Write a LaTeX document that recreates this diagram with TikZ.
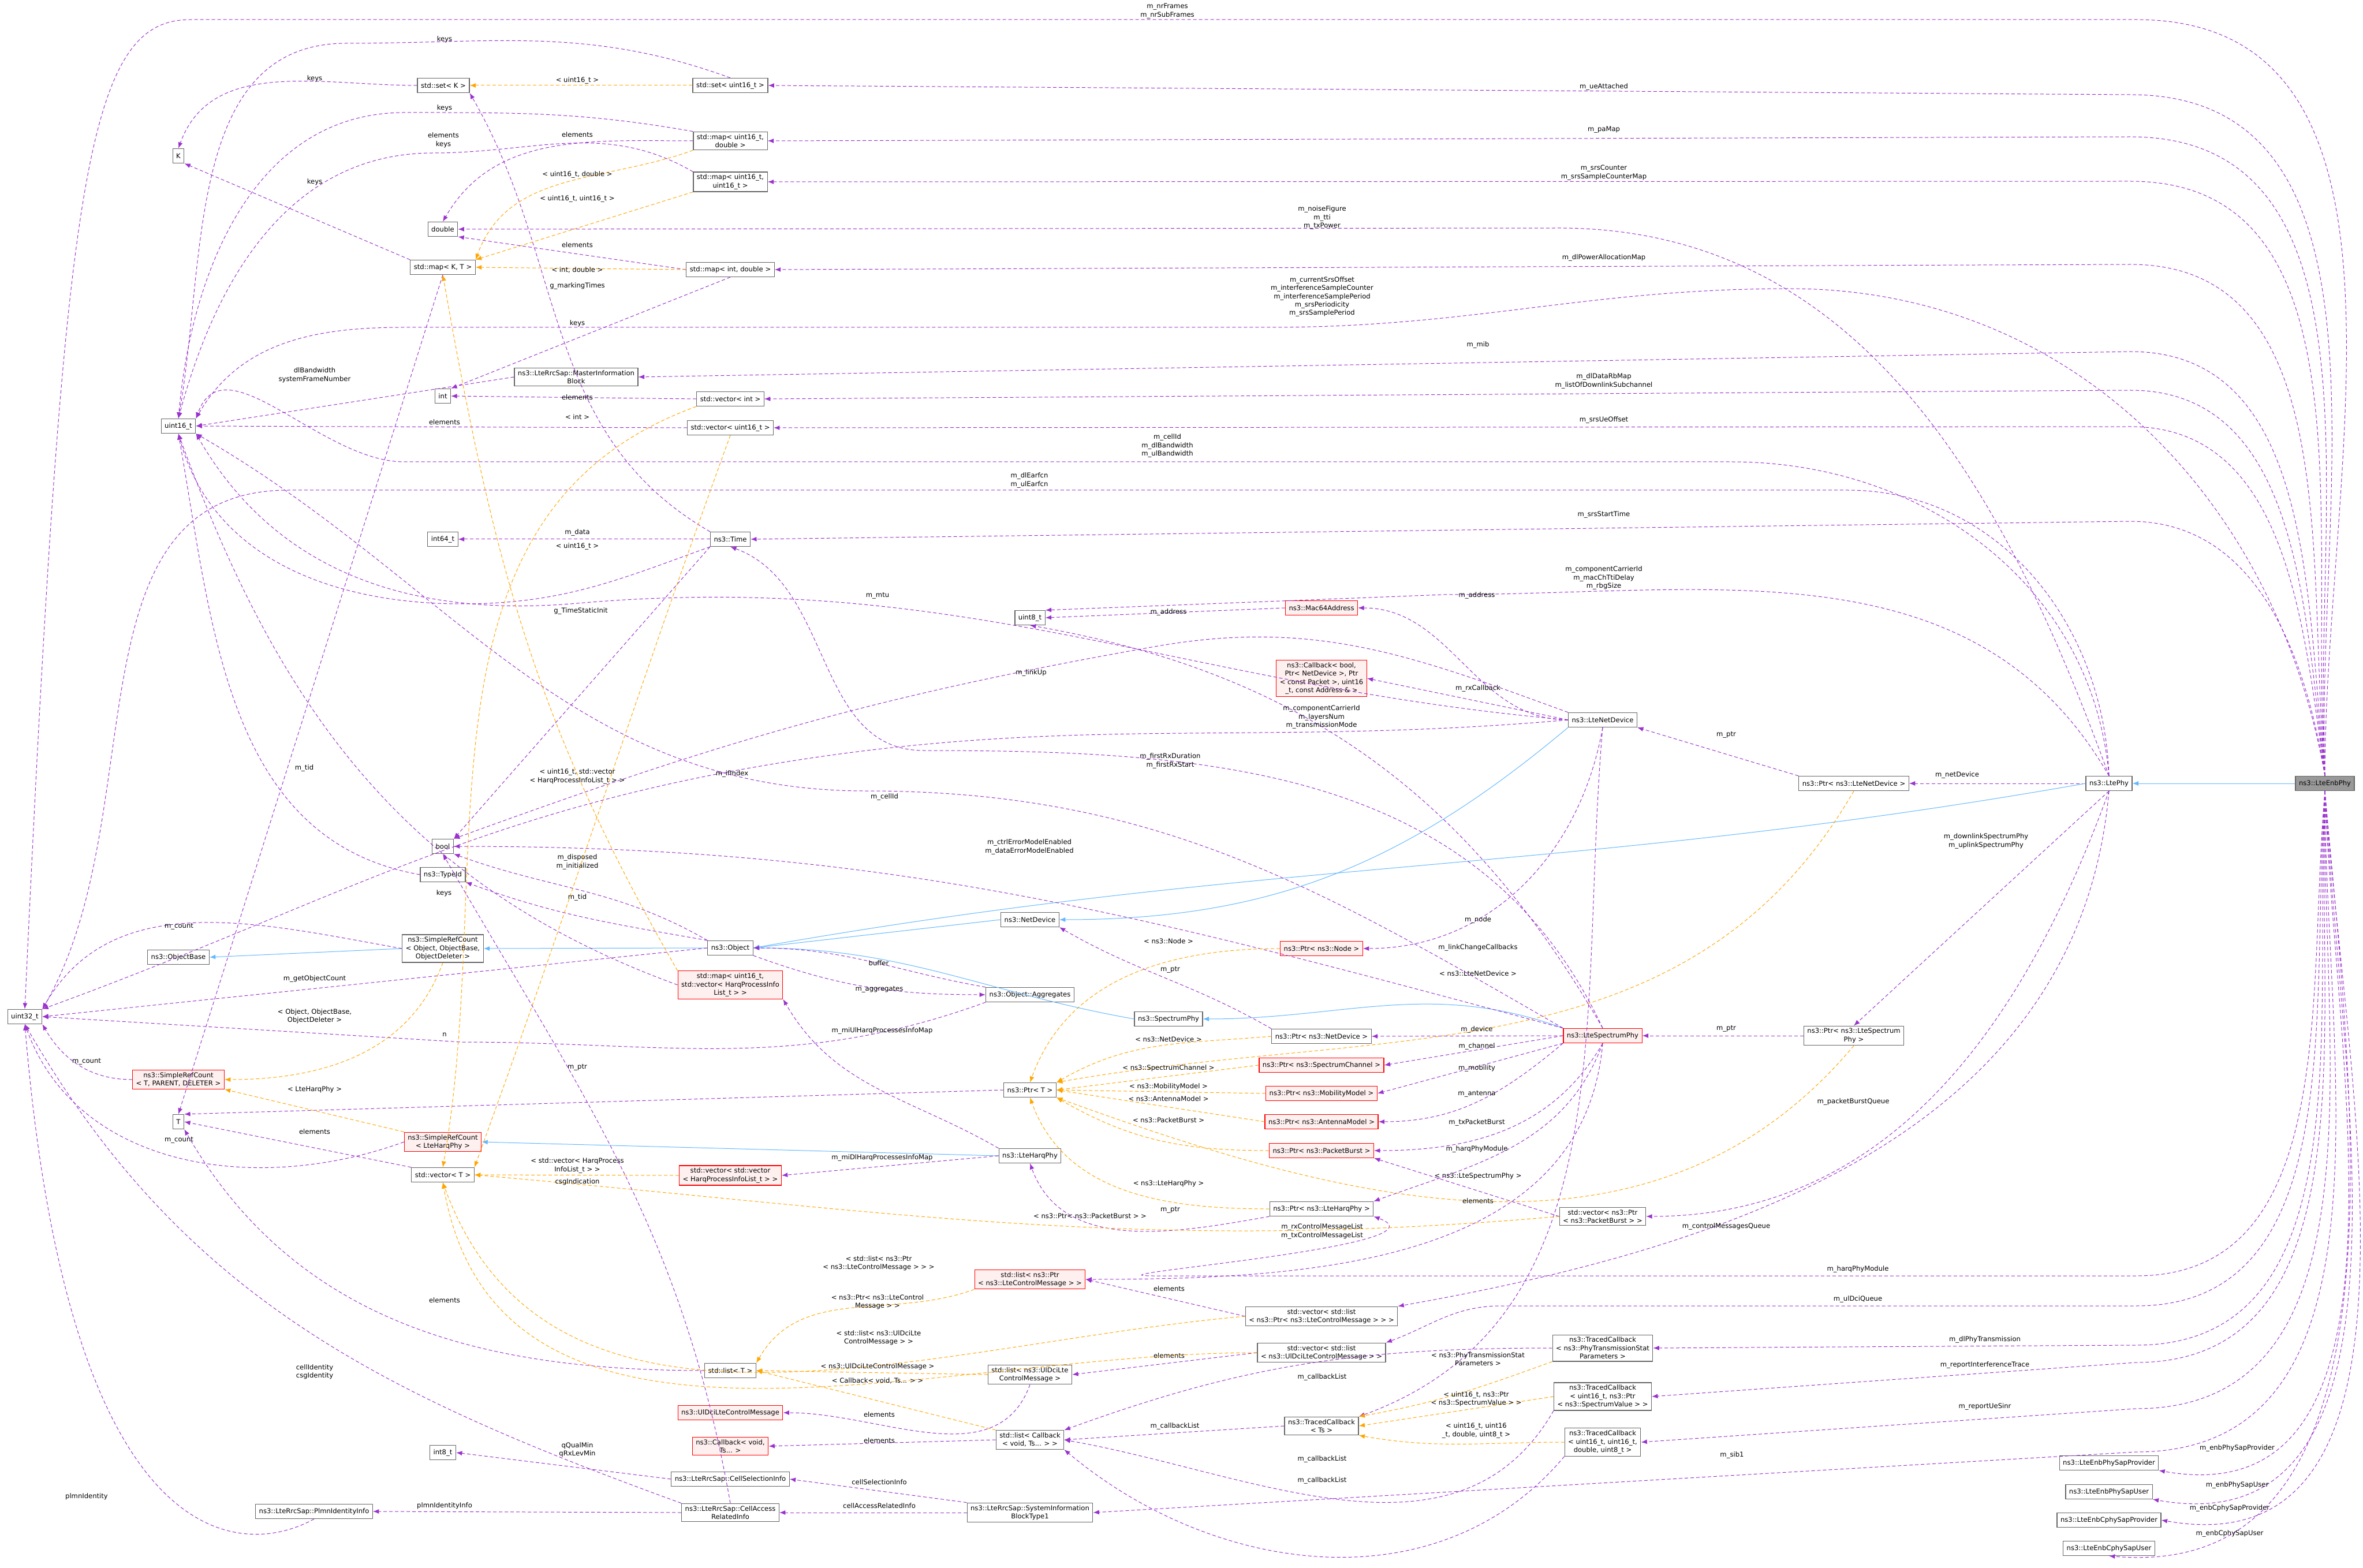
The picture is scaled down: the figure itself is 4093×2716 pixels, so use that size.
\documentclass[tikz,border=0pt]{standalone}
\usepackage{fontspec}
\setmainfont{DejaVu Sans}
\usetikzlibrary{arrows.meta}
\definecolor{mem}{HTML}{9A32CD}
\definecolor{tpl}{HTML}{FFA500}
\definecolor{inh}{HTML}{63B8FF}
\definecolor{redfill}{HTML}{FFF0F0}
\newcounter{lbc}
\newcommand\lb[2]{\stepcounter{lbc}\node[lbl] (lb\arabic{lbc}) at (#1) {#2};}
\tikzset{
 box/.style={draw=black!60, fill=white, line width=0.3pt, font=\fontsize{2.9}{3.6}\selectfont, align=center, inner xsep=1.5pt, inner ysep=1pt, minimum height=6.25pt},
 rbox/.style={box, draw=red, fill=redfill},
 gbox/.style={box, fill=black!40},
 lbl/.style={font=\fontsize{2.9}{3.6}\selectfont, align=center, inner sep=0.25pt},
 m/.style={draw=mem, dash pattern=on 1.5pt off 1pt, line width=0.25pt, -{Latex[length=2.6pt,width=2pt]}},
 o/.style={draw=tpl, dash pattern=on 1.5pt off 1pt, line width=0.25pt, -{Latex[length=2.6pt,width=2pt]}},
 b/.style={draw=inh, line width=0.25pt, -{Latex[length=2.6pt,width=2pt]}},
}
\begin{document}
\begin{tikzpicture}[x=0.25pt,y=-0.25pt]
\useasboundingbox (0,0) rectangle (4093,2716);
% nodes
\node[box] (setK) at (768,148) {std::set< K >};
\node[box] (setU16) at (1265,148) {std::set< uint16\_t >};
\node[box] (K) at (309,270) {K};
\node[box] (mapU16D) at (1265,244) {std::map< uint16\_t,\\double >};
\node[box] (mapU16U16) at (1265,315) {std::map< uint16\_t,\\uint16\_t >};
\node[box] (dbl) at (767,397) {double};
\node[box] (mapKT) at (767,463) {std::map< K, T >};
\node[box] (mapID) at (1265,467) {std::map< int, double >};
\node[box] (mib) at (998,653) {ns3::LteRrcSap::MasterInformation\\Block};
\node[box] (int) at (767,686) {int};
\node[box] (vecInt) at (1265,691) {std::vector< int >};
\node[box] (u16) at (309,738) {uint16\_t};
\node[box] (vecU16) at (1265,741) {std::vector< uint16\_t >};
\node[box] (i64) at (767,934) {int64\_t};
\node[box] (time) at (1265,934) {ns3::Time};
\node[box] (u8) at (1784,1070) {uint8\_t};
\node[rbox] (mac) at (2289,1053) {ns3::Mac64Address};
\node[rbox] (cbBool) at (2289,1175) {ns3::Callback< bool,\\Ptr< NetDevice >, Ptr\\< const Packet >, uint16\\\_t, const Address \& >};
\node[box] (lnd) at (2776,1247) {ns3::LteNetDevice};
\node[box] (pLnd) at (3211,1357) {ns3::Ptr< ns3::LteNetDevice >};
\node[box] (lphy) at (3653,1357) {ns3::LtePhy};
\node[gbox] (enb) at (4027,1357) {ns3::LteEnbPhy};
\node[box] (bool) at (767,1466) {bool};
\node[box] (typeid) at (767,1515) {ns3::TypeId};
\node[box] (nd) at (1784,1593) {ns3::NetDevice};
\node[box] (srcObj) at (767,1643) {ns3::SimpleRefCount\\< Object, ObjectBase,\\ObjectDeleter >};
\node[box] (objBase) at (309,1658) {ns3::ObjectBase};
\node[box] (obj) at (1265,1642) {ns3::Object};
\node[rbox] (pNode) at (2289,1643) {ns3::Ptr< ns3::Node >};
\node[rbox] (mapHarq) at (1265,1706) {std::map< uint16\_t,\\std::vector< HarqProcessInfo\\List\_t > >};
\node[box] (aggr) at (1784,1723) {ns3::Object::Aggregates};
\node[box] (u32) at (43,1761) {uint32\_t};
\node[box] (sphy) at (2024,1765) {ns3::SpectrumPhy};
\node[box] (pNd) at (2289,1795) {ns3::Ptr< ns3::NetDevice >};
\node[rbox] (lsp) at (2776,1794) {ns3::LteSpectrumPhy};
\node[box] (pLsp) at (3211,1794) {ns3::Ptr< ns3::LteSpectrum\\Phy >};
\node[rbox] (pChan) at (2289,1845) {ns3::Ptr< ns3::SpectrumChannel >};
\node[rbox] (srcT) at (309,1870) {ns3::SimpleRefCount\\< T, PARENT, DELETER >};
\node[box] (pT) at (1784,1888) {ns3::Ptr< T >};
\node[rbox] (pMob) at (2289,1894) {ns3::Ptr< ns3::MobilityModel >};
\node[box] (T) at (309,1943) {T};
\node[rbox] (pAnt) at (2289,1943) {ns3::Ptr< ns3::AntennaModel >};
\node[rbox] (srcHarq) at (767,1978) {ns3::SimpleRefCount\\< LteHarqPhy >};
\node[rbox] (pPB) at (2289,1993) {ns3::Ptr< ns3::PacketBurst >};
\node[box] (harq) at (1784,2002) {ns3::LteHarqPhy};
\node[box] (vecT) at (767,2035) {std::vector< T >};
\node[rbox] (vecVecHarq) at (1265,2036) {std::vector< std::vector\\< HarqProcessInfoList\_t > >};
\node[box] (pHarq) at (2289,2094) {ns3::Ptr< ns3::LteHarqPhy >};
\node[box] (vecPB) at (2776,2107) {std::vector< ns3::Ptr\\< ns3::PacketBurst > >};
\node[rbox] (listCtrl) at (1784,2216) {std::list< ns3::Ptr\\< ns3::LteControlMessage > >};
\node[box] (vecListCtrl) at (2289,2280) {std::vector< std::list\\< ns3::Ptr< ns3::LteControlMessage > > >};
\node[box] (tcPhyTx) at (2776,2335) {ns3::TracedCallback\\< ns3::PhyTransmissionStat\\Parameters >};
\node[box] (vecListUlDci) at (2289,2343) {std::vector< std::list\\< ns3::UlDciLteControlMessage > >};
\node[box] (listT) at (1265,2374) {std::list< T >};
\node[box] (listUlDci) at (1784,2381) {std::list< ns3::UlDciLte\\ControlMessage >};
\node[box] (tcU16) at (2776,2419) {ns3::TracedCallback\\< uint16\_t, ns3::Ptr\\< ns3::SpectrumValue > >};
\node[rbox] (ulDci) at (1265,2447) {ns3::UlDciLteControlMessage};
\node[box] (tcTs) at (2289,2470) {ns3::TracedCallback\\< Ts >};
\node[box] (listCb) at (1784,2494) {std::list< Callback\\< void, Ts... > >};
\node[box] (tcU16U16) at (2776,2498) {ns3::TracedCallback\\< uint16\_t, uint16\_t,\\double, uint8\_t >};
\node[rbox] (cbVoid) at (1265,2505) {ns3::Callback< void,\\Ts... >};
\node[box] (i8) at (767,2516) {int8\_t};
\node[box] (cellSel) at (1265,2562) {ns3::LteRrcSap::CellSelectionInfo};
\node[box] (sib1) at (1784,2620) {ns3::LteRrcSap::SystemInformation\\BlockType1};
\node[box] (cellAcc) at (1265,2620) {ns3::LteRrcSap::CellAccess\\RelatedInfo};
\node[box] (plmn) at (544,2618) {ns3::LteRrcSap::PlmnIdentityInfo};
\node[box] (sapP) at (3653,2534) {ns3::LteEnbPhySapProvider};
\node[box] (sapU) at (3653,2584) {ns3::LteEnbPhySapUser};
\node[box] (csapP) at (3653,2633) {ns3::LteEnbCphySapProvider};
\node[box] (csapU) at (3653,2682) {ns3::LteEnbCphySapUser};

% --- LteEnbPhy upward members
\draw[m] (enb.north) to[out=90,in=0] (3700,34) -- (330,34) .. controls (150,34) and (110,300) .. (u32.north);
\lb{2022,19}{m\_nrFrames\\m\_nrSubFrames}
\draw[m] (enb.north) to[out=92,in=0] (3690,164) -- (setU16.east);
\lb{2778,150}{m\_ueAttached}
\draw[m] (enb.north) to[out=93,in=0] (3690,237) -- (mapU16D.east);
\lb{2778,225}{m\_paMap}
\draw[m] (enb.north) to[out=94,in=0] (3690,314) -- (mapU16U16.east);
\lb{2778,299}{m\_srsCounter\\m\_srsSampleCounterMap}
\draw[m] (enb.north) to[out=95,in=0] (3690,458) -- (mapID.east);
\lb{2778,446}{m\_dlPowerAllocationMap}
\draw[m] (enb.north) to[out=100,in=0] (3100,500) to[out=180,in=0] (2200,567) -- (700,567) to[out=180,in=60] (u16.north east);
\lb{2290,514}{m\_currentSrsOffset\\m\_interferenceSampleCounter\\m\_interferenceSamplePeriod\\m\_srsPeriodicity\\m\_srsSamplePeriod}
\draw[m] (enb.north) to[out=96,in=0] (3690,609) -- (mib.east);
\lb{2560,597}{m\_mib}
\draw[m] (enb.north) to[out=97,in=0] (3690,676) -- (vecInt.east);
\lb{2778,660}{m\_dlDataRbMap\\m\_listOfDownlinkSubchannel}
\draw[m] (enb.north) to[out=98,in=0] (3690,739) -- (vecU16.east);
\lb{2778,727}{m\_srsUeOffset}
\draw[m] (enb.north) to[out=99,in=0] (3690,903) -- (time.east);
\lb{2778,891}{m\_srsStartTime}
% --- LteEnbPhy downward members
\draw[b] (enb.west) -- (lphy.east);
\draw[m] (enb.south) to[out=-95,in=0] (3700,2210) -- (2000,2210) to[out=180,in=-20] (pHarq.south east);
\lb{3218,2198}{m\_harqPhyModule}
\draw[m] (enb.south) to[out=-94,in=0] (3700,2262) -- (2600,2262) to[out=180,in=20] (vecListUlDci.north east);
\lb{3218,2250}{m\_ulDciQueue}
\draw[m] (enb.south) to[out=-93,in=0] (3700,2330) -- (tcPhyTx.east);
\lb{3438,2320}{m\_dlPhyTransmission}
\draw[m] (enb.south) to[out=-92,in=0] (3700,2360) -- (tcU16.east);
\lb{3438,2364}{m\_reportInterferenceTrace}
\draw[m] (enb.south) to[out=-91,in=0] (3700,2440) -- (tcU16U16.east);
\lb{3438,2436}{m\_reportUeSinr}
\draw[m] (enb.south) to[out=-90,in=0] (3700,2515) -- (sib1.east);
\lb{3000,2520}{m\_sib1}
\draw[m] (enb.south) to[out=-88,in=-10] (sapP.south east);
\lb{3875,2508}{m\_enbPhySapProvider}
\draw[m] (enb.south) to[out=-87,in=-10] (sapU.south east);
\lb{3875,2572}{m\_enbPhySapUser}
\draw[m] (enb.south) to[out=-86,in=-10] (csapP.east);
\lb{3862,2612}{m\_enbCphySapProvider}
\draw[m] (enb.south) to[out=-85,in=-5] (csapU.south);
\lb{3862,2656}{m\_enbCphySapUser}

% --- LtePhy members
\draw[m] (lphy.north) to[out=110,in=0] (2700,395) -- (dbl.east);
\lb{2290,377}{m\_noiseFigure\\m\_tti\\m\_txPower}
\draw[m] (lphy.north) to[out=95,in=0] (3000,800) -- (700,800) to[out=180,in=70] (u16.north east);
\lb{2022,772}{m\_cellId\\m\_dlBandwidth\\m\_ulBandwidth}
\draw[m] (lphy.north) to[out=92,in=0] (3200,849) -- (500,849) to[out=180,in=60] (u32.north east);
\lb{1783,832}{m\_dlEarfcn\\m\_ulEarfcn}
\draw[m] (lphy.north) to[out=120,in=0] (2500,1030) -- (u8.north east);
\lb{2778,1001}{m\_componentCarrierId\\m\_macChTtiDelay\\m\_rbgSize}
\draw[m] (lphy.west) -- (pLnd.east);
\lb{3390,1342}{m\_netDevice}
\draw[b] (lphy.west) to[out=190,in=10] (obj.east);
\draw[m] (lphy.south) -- (pLsp.north);
\lb{3440,1457}{m\_downlinkSpectrumPhy\\m\_uplinkSpectrumPhy}
\draw[m] (lphy.south) to[out=-110,in=0] (vecPB.east);
\lb{3210,1908}{m\_packetBurstQueue}
\draw[m] (lphy.south) to[out=-95,in=10] (vecListCtrl.north east);
\lb{2990,2124}{m\_controlMessagesQueue}

% --- Ptr< LteNetDevice >, Ptr< LteSpectrumPhy >
\draw[m] (pLnd.north west) -- (lnd.south east);
\lb{2990,1273}{m\_ptr}
\draw[o] (pLnd.south) to[out=-120,in=10] (pT.north east);
\lb{2560,1686}{< ns3::LteNetDevice >}
\draw[m] (pLsp.west) -- (lsp.east);
\lb{2990,1782}{m\_ptr}
\draw[o] (pLsp.south) to[out=-130,in=-20] (pT.south east);
\lb{2560,2037}{< ns3::LteSpectrumPhy >}

% --- LteNetDevice
\draw[b] (lnd.south west) to[out=-140,in=0] (nd.east);
\draw[m] (lnd.west) to[out=180,in=0] (mac.east);
\lb{2558,1031}{m\_address}
\draw[m] (lnd.west) -- (cbBool.east);
\lb{2560,1192}{m\_rxCallback}
\draw[m] (lnd.north west) to[out=160,in=10] (2000,1120) to[out=190,in=20] (bool.north east);
\lb{1786,1165}{m\_linkUp}
\draw[m] (lnd.west) to[out=175,in=5] (1000,1045) to[out=185,in=-60] (u16.south east);
\lb{1520,1032}{m\_mtu}
\draw[m] (lnd.south) to[out=-100,in=0] (pNode.east);
\lb{2560,1593}{m\_node}
\draw[m] (lnd.south) to[out=-95,in=20] (tcTs.north east);
\lb{2560,1641}{m\_linkChangeCallbacks}
\draw[m] (lnd.west) to[out=185,in=10] (1300,1330) to[out=190,in=20] (u32.north east);
\lb{1268,1340}{m\_ifIndex}
\draw[m] (mac.west) -- (u8.east);
\lb{2024,1060}{m\_address}

% --- LteSpectrumPhy
\draw[b] (lsp.north west) to[out=160,in=0] (sphy.east);
\draw[m] (lsp.west) -- (pNd.east);
\lb{2558,1783}{m\_device}
\draw[m] (lsp.west) -- (pChan.east);
\lb{2558,1812}{m\_channel}
\draw[m] (lsp.south west) -- (pMob.east);
\lb{2558,1850}{m\_mobility}
\draw[m] (lsp.south west) to[out=-140,in=0] (pAnt.east);
\lb{2558,1895}{m\_antenna}
\draw[m] (lsp.south) to[out=-120,in=0] (pPB.east);
\lb{2558,1944}{m\_txPacketBurst}
\draw[m] (lsp.south) to[out=-110,in=20] (pHarq.north east);
\lb{2558,1990}{m\_harqPhyModule}
\draw[m] (lsp.south) to[out=-95,in=0] (listCtrl.east);
\lb{2290,2133}{m\_rxControlMessageList\\m\_txControlMessageList}
\draw[m] (lsp.north) to[out=120,in=-10] (u8.south);
\lb{2289,1242}{m\_componentCarrierId\\m\_layersNum\\m\_transmissionMode}
\draw[m] (lsp.north) to[out=115,in=0] (1600,1300) to[out=180,in=-20] (time.south);
\lb{2027,1318}{m\_firstRxDuration\\m\_firstRxStart}
\draw[m] (lsp.north west) to[out=150,in=0] (1500,1370) to[out=180,in=-30] (u16.south east);
\lb{1532,1380}{m\_cellId}
\draw[m] (lsp.north west) to[out=165,in=0] (bool.east);
\lb{1783,1467}{m\_ctrlErrorModelEnabled\\m\_dataErrorModelEnabled}

% --- Ptr< X > instances
\draw[o] (pNode.west) to[out=180,in=70] (pT.north);
\lb{2024,1630}{< ns3::Node >}
\draw[o] (pNd.west) to[out=185,in=30] (pT.north east);
\lb{2024,1800}{< ns3::NetDevice >}
\draw[o] (pChan.west) -- (pT.east);
\lb{2024,1850}{< ns3::SpectrumChannel >}
\draw[o] (pMob.west) -- (pT.east);
\lb{2024,1882}{< ns3::MobilityModel >}
\draw[o] (pAnt.west) -- (pT.east);
\lb{2024,1903}{< ns3::AntennaModel >}
\draw[o] (pPB.west) to[out=180,in=-30] (pT.south east);
\lb{2024,1940}{< ns3::PacketBurst >}
\draw[o] (pHarq.west) to[out=180,in=-70] (pT.south);
\lb{2024,2050}{< ns3::LteHarqPhy >}
\draw[m] (pNd.north west) to[out=150,in=-30] (nd.south east);
\lb{2027,1680}{m\_ptr}
\draw[m] (pHarq.south west) to[out=190,in=-70] (harq.south);
\lb{2027,2096}{m\_ptr}
\draw[m] (pT.west) -- (T.north east);
\lb{1000,1849}{m\_ptr}
\draw[m] (vecPB.west) -- (pPB.south east);
\lb{2560,2080}{elements}
\draw[o] (vecPB.west) to[out=185,in=-5] (vecT.east);
\lb{1888,2106}{< ns3::Ptr< ns3::PacketBurst > >}

% --- Object, NetDevice, SpectrumPhy
\draw[b] (nd.west) -- (obj.east);
\draw[b] (sphy.west) to[out=170,in=0] (obj.east);
\draw[b] (obj.west) -- (srcObj.east);
\draw[b] (srcObj.west) -- (objBase.east);
\draw[b] (harq.west) -- (srcHarq.east);
\draw[m] (obj.north west) to[out=150,in=-20] (bool.south east);
\lb{1000,1493}{m\_disposed\\m\_initialized}
\draw[m] (obj.north west) to[out=170,in=-20] (typeid.south east);
\lb{1000,1554}{m\_tid}
\draw[m] (typeid.west) to[out=170,in=-80] (u16.south);
\lb{527,1330}{m\_tid}
\draw[m] (obj.west) -- (u32.east);
\lb{545,1695}{m\_getObjectCount}
\draw[m] (obj.south east) to[out=-20,in=180] (aggr.west);
\lb{1523,1714}{m\_aggregates}
\draw[m] (aggr.north west) to[out=170,in=0] (obj.east);
\lb{1522,1668}{buffer}
\draw[m] (aggr.south west) to[out=200,in=0] (800,1805) -- (u32.east);
\lb{770,1792}{n}
\draw[m] (time.south west) -- (bool.north east);
\draw[m] (time.west) -- (i64.east);
\lb{1000,922}{m\_data}
\draw[m] (time.north west) to[out=150,in=-60] (setK.south east);
\lb{1000,495}{g\_markingTimes}
\draw[m] (time.south west) to[out=200,in=0] (800,1046) to[out=180,in=-75] (u16.south);
\lb{1006,1058}{g\_TimeStaticInit}

% --- maps & sets
\draw[m] (setU16.north) to[out=160,in=0] (600,75) to[out=180,in=80] (u16.north);
\lb{770,68}{keys}
\draw[o] (setU16.west) -- (setK.east);
\lb{1000,139}{< uint16\_t >}
\draw[m] (setK.west) to[out=180,in=70] (K.north);
\lb{545,136}{keys}
\draw[m] (mapU16D.north west) to[out=170,in=0] (700,195) to[out=180,in=85] (u16.north);
\lb{770,187}{keys}
\draw[m] (mapU16D.west) to[out=180,in=60] (dbl.north);
\lb{1000,233}{elements}
\draw[o] (mapU16D.south west) to[out=200,in=70] (mapKT.north east);
\lb{1000,302}{< uint16\_t, double >}
\draw[m] (mapU16U16.north west) to[out=150,in=0] (750,265) to[out=180,in=75] (u16.north);
\lb{768,243}{elements\\keys}
\draw[o] (mapU16U16.south west) -- (mapKT.north east);
\lb{1000,344}{< uint16\_t, uint16\_t >}
\draw[m] (mapKT.north west) -- (K.south east);
\lb{545,315}{keys}
\draw[m] (mapID.west) -- (dbl.south east);
\lb{1000,424}{elements}
\draw[o] (mapID.west) -- (mapKT.east);
\lb{1000,468}{< int, double >}
\draw[m] (mapID.south) -- (int.north east);
\lb{1000,560}{keys}
\draw[m] (mapKT.south) -- (T.north);
\draw[m] (mib.west) -- (u16.east);
\lb{545,650}{dlBandwidth\\systemFrameNumber}
\draw[m] (vecInt.west) -- (int.east);
\lb{1000,688}{elements}
\draw[o] (vecInt.south west) to[out=200,in=80] (vecT.north);
\lb{1000,722}{< int >}
\draw[m] (vecU16.west) -- (u16.east);
\lb{770,731}{elements}
\draw[o] (vecU16.south) to[out=-110,in=70] (vecT.north east);
\lb{1000,946}{< uint16\_t >}

% --- HARQ
\draw[m] (harq.north west) to[out=150,in=-60] (mapHarq.south east);
\lb{1528,1785}{m\_miUlHarqProcessesInfoMap}
\draw[m] (harq.west) -- (vecVecHarq.east);
\lb{1528,2005}{m\_miDlHarqProcessesInfoMap}
\draw[o] (mapHarq.north west) to[out=120,in=-80] (mapKT.south);
\lb{1000,1345}{< uint16\_t, std::vector\\< HarqProcessInfoList\_t > >}
\draw[m] (mapHarq.west) to[out=160,in=-70] (u16.south);
\lb{769,1547}{keys}
\draw[o] (vecVecHarq.west) -- (vecT.east);
\lb{1000,2019}{< std::vector< HarqProcess\\InfoList\_t > >}
\draw[o] (srcHarq.north west) -- (srcT.south east);
\lb{545,1887}{< LteHarqPhy >}
\draw[o] (srcObj.south) to[out=-110,in=0] (srcT.east);
\lb{545,1760}{< Object, ObjectBase,\\ObjectDeleter >}
\draw[m] (srcObj.west) to[out=170,in=60] (u32.north east);
\lb{310,1605}{m\_count}
\draw[m] (srcT.west) to[out=180,in=-60] (u32.south east);
\lb{150,1839}{m\_count}
\draw[m] (srcHarq.west) to[out=200,in=-70] (u32.south);
\lb{310,1975}{m\_count}
\draw[m] (vecT.north west) -- (T.east);
\lb{545,1960}{elements}

% --- lists
\draw[m] (listT.west) to[out=180,in=-60] (T.south east);
\lb{770,2252}{elements}
\draw[m] (vecListCtrl.west) -- (listCtrl.east);
\lb{2025,2232}{elements}
\draw[m] (vecListUlDci.west) -- (listUlDci.east);
\lb{2025,2348}{elements}
\draw[o] (vecListCtrl.west) to[out=185,in=-70] (vecT.south);
\lb{1522,2188}{< std::list< ns3::Ptr\\< ns3::LteControlMessage > > >}
\draw[o] (vecListUlDci.west) to[out=180,in=-80] (vecT.south);
\lb{1522,2317}{< std::list< ns3::UlDciLte\\ControlMessage > >}
\draw[o] (listCtrl.south west) to[out=200,in=60] (listT.north east);
\lb{1520,2255}{< ns3::Ptr< ns3::LteControl\\Message > >}
\draw[o] (listUlDci.west) -- (listT.east);
\lb{1520,2367}{< ns3::UlDciLteControlMessage >}
\draw[o] (listCb.north west) -- (listT.east);
\lb{1520,2392}{< Callback< void, Ts... > >}
\draw[m] (listUlDci.south) to[out=-110,in=0] (ulDci.east);
\lb{1523,2450}{elements}
\draw[m] (listCb.west) -- (cbVoid.east);
\lb{1523,2495}{elements}
\draw[m] (tcTs.west) -- (listCb.east);
\lb{2035,2470}{m\_callbackList}
\draw[m] (tcPhyTx.west) to[out=180,in=20] (listCb.north east);
\lb{2290,2385}{m\_callbackList}
\draw[m] (tcU16.south west) to[out=-120,in=-10] (listCb.east);
\lb{2290,2527}{m\_callbackList}
\draw[m] (tcU16U16.south west) to[out=-130,in=-40] (listCb.south east);
\lb{2290,2564}{m\_callbackList}
\draw[o] (tcPhyTx.south west) to[out=200,in=10] (tcTs.north east);
\lb{2560,2354}{< ns3::PhyTransmissionStat\\Parameters >}
\draw[o] (tcU16.west) -- (tcTs.east);
\lb{2557,2423}{< uint16\_t, ns3::Ptr\\< ns3::SpectrumValue > >}
\draw[o] (tcU16U16.west) to[out=180,in=-10] (tcTs.south east);
\lb{2557,2478}{< uint16\_t, uint16\\\_t, double, uint8\_t >}

% --- RRC
\draw[m] (sib1.north west) -- (cellSel.east);
\lb{1523,2567}{cellSelectionInfo}
\draw[m] (sib1.west) -- (cellAcc.east);
\lb{1523,2608}{cellAccessRelatedInfo}
\draw[m] (cellSel.west) -- (i8.east);
\lb{1000,2511}{qQualMin\\qRxLevMin}
\draw[m] (cellAcc.west) -- (plmn.east);
\lb{770,2608}{plmnIdentityInfo}
\draw[m] (cellAcc.north west) to[out=160,in=-60] (u32.south);
\lb{545,2376}{cellIdentity\\csgIdentity}
\draw[m] (plmn.south) .. controls (420,2700) and (120,2700) .. (u32.south);
\lb{150,2592}{plmnIdentity}
\draw[m] (cellAcc.north) to[out=100,in=-60] (bool.south);
\lb{1000,2047}{csgIndication}
\end{tikzpicture}
\end{document}
